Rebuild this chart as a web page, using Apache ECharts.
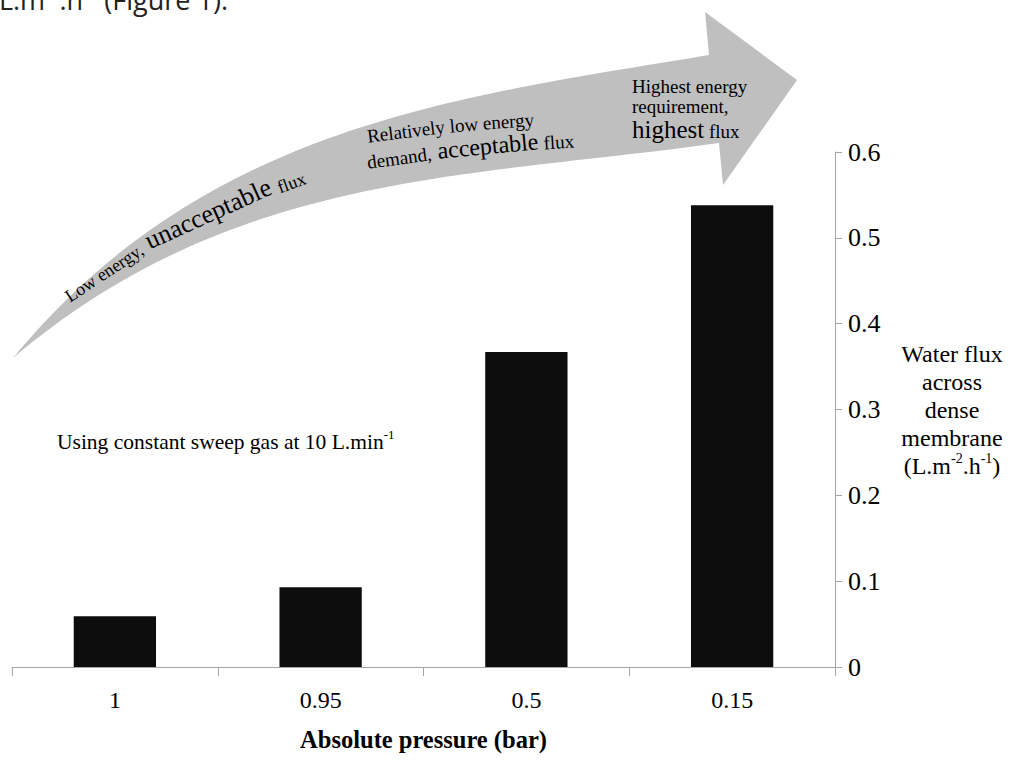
<!DOCTYPE html>
<html><head><meta charset="utf-8">
<script src="https://cdn.jsdelivr.net/npm/echarts@6/dist/echarts.min.js"></script>
<style>html,body{margin:0;padding:0;background:#fff}#c{width:1011px;height:764px}</style>
</head><body><div id="c"></div>
<script>
// ---- data ----
const categories = ['1', '0.95', '0.5', '0.15'];
const waterFlux = [0.059, 0.093, 0.367, 0.538];
const yTicks = [0, 0.1, 0.2, 0.3, 0.4, 0.5, 0.6];
const xAxisTitle = 'Absolute pressure (bar)';
const yAxisTitle = 'Water flux\nacross\ndense\nmembrane\n(L.m{sup|-2}.h{sup|-1})';
const noteText = '{n|Using constant sweep gas at 10 L.min}{s|-1}';
const arrowText1 = ['Low energy,', 'unacceptable', 'flux'];
const arrowText2a = ['Relatively', 'low', 'energy'];
const arrowText2b = ['demand,', 'acceptable', 'flux'];
const arrowText3 = ['Highest energy', 'requirement,', 'highest', 'flux'];
const topText = '{a|L.m}{s|-2}{a|.h}{s|-1}{a| (Figure 1).}';

// ---- helpers for decoration ----
const SERIF = '"Liberation Serif", "Times New Roman", serif';
const mctx = document.createElement('canvas').getContext('2d');
function tw(t, size) { mctx.font = size + 'px ' + SERIF; return mctx.measureText(t).width; }
function bez(pts, t) {
  let p = pts.map(q => q.slice());
  while (p.length > 1) {
    const n = [];
    for (let i = 0; i < p.length - 1; i++) n.push([p[i][0] + (p[i + 1][0] - p[i][0]) * t, p[i][1] + (p[i + 1][1] - p[i][1]) * t]);
    p = n;
  }
  return p[0];
}
function polyline(ctrl, n) { const a = []; for (let i = 0; i <= n; i++) a.push(bez(ctrl, i / n)); return a; }
function walker(ctrl) {
  const pts = polyline(ctrl, 300); const cum = [0];
  for (let i = 1; i < pts.length; i++) cum.push(cum[i - 1] + Math.hypot(pts[i][0] - pts[i - 1][0], pts[i][1] - pts[i - 1][1]));
  return function (s) {
    let i = 0;
    while (i < pts.length - 2 && cum[i + 1] < s) i++;
    const f = (s - cum[i]) / (cum[i + 1] - cum[i]);
    const dx = pts[i + 1][0] - pts[i][0], dy = pts[i + 1][1] - pts[i][1];
    return { x: pts[i][0] + dx * f, y: pts[i][1] + dy * f, ang: Math.atan2(dy, dx) };
  };
}
function runsOnPath(texts, sizes, gaps, ctrl, start) {
  const walk = walker(ctrl); let s = start; const els = [];
  texts.forEach((t, i) => {
    const size = sizes[i];
    if (i > 0) s += (gaps && gaps[i] != null) ? gaps[i] : tw(' ', Math.min(size, sizes[i - 1]));
    const w = tw(t, size);
    const m = walk(s + w / 2);
    const off = 0.34 * size;
    els.push({
      type: 'text', x: m.x + Math.sin(m.ang) * off, y: m.y - Math.cos(m.ang) * off,
      rotation: -m.ang, z: 10,
      style: { text: t, fontFamily: 'Liberation Serif', fontSize: size, fill: '#000', align: 'center', verticalAlign: 'middle' }
    });
    s += w;
  });
  return els;
}

// arrow outline
const upperEdge = polyline([[13, 358], [205, 125], [457, 97], [709, 55]], 80);
const lowerEdge = polyline([[719, 143], [470, 178], [233, 171], [13, 358]], 80);
const arrowPts = upperEdge.concat([[705, 12], [797, 80], [723, 185]], lowerEdge);

const graphics = [
  { type: 'polygon', z: 1, shape: { points: arrowPts }, style: { fill: '#bfbfbf' } },
  ...runsOnPath(arrowText1, [18, 26, 18], [null, 6, 6], [[62, 312], [150, 238], [318, 180]], 12),
  ...runsOnPath(arrowText2a, [19, 19, 19], null, [[368, 143], [450, 131], [537, 126]], 0),
  ...runsOnPath(arrowText2b, [19, 24, 19], [null, 6, 5], [[368, 169], [475, 153], [582, 147]], 0),
  ...runsOnPath([arrowText3[0]], [19], null, [[632, 93], [900, 93]], 0),
  ...runsOnPath([arrowText3[1]], [19], null, [[632, 113], [900, 113]], 0),
  ...runsOnPath([arrowText3[2], arrowText3[3]], [25, 19], null, [[632, 138], [900, 138]], 0),
  {
    type: 'text', x: 57, y: 428, z: 10,
    style: {
      text: noteText, align: 'left', verticalAlign: 'top',
      rich: {
        n: { fontFamily: 'Liberation Serif', fontSize: 21.5, lineHeight: 28, fill: '#000' },
        s: { fontFamily: 'Liberation Serif', fontSize: 13, lineHeight: 19, verticalAlign: 'top', fill: '#000' }
      }
    }
  },
  {
    type: 'text', x: 228, y: 16, z: 10,
    style: {
      text: topText, align: 'right', verticalAlign: 'bottom',
      rich: {
        a: { fontFamily: 'Open Sans', fontSize: 27, lineHeight: 34, fill: '#222' },
        s: { fontFamily: 'Open Sans', fontSize: 16, lineHeight: 22, verticalAlign: 'top', fill: '#222' }
      }
    }
  }
];

const chart = echarts.init(document.getElementById('c'), null, { renderer: 'svg' });
chart.setOption({
  animation: false,
  backgroundColor: '#fff',
  grid: { left: 12, right: 176, top: 152, bottom: 97, containLabel: false },
  xAxis: {
    type: 'category', data: categories, boundaryGap: true,
    axisLine: { lineStyle: { color: '#a6a6a6', width: 1 } },
    axisTick: { show: true, length: 9, alignWithLabel: false, lineStyle: { color: '#a6a6a6' } },
    axisLabel: { margin: 21, color: '#000', fontFamily: 'Liberation Serif', fontSize: 24 },
    splitLine: { show: false },
    name: xAxisTitle, nameLocation: 'middle', nameGap: 60,
    nameTextStyle: { color: '#000', fontFamily: 'Liberation Serif', fontSize: 24.5, fontWeight: 'bold' }
  },
  yAxis: {
    type: 'value', position: 'right',
    min: yTicks[0], max: yTicks[yTicks.length - 1], interval: yTicks[1] - yTicks[0],
    axisLine: { show: true, lineStyle: { color: '#a6a6a6', width: 1 } },
    axisTick: { show: true, length: 7, inside: false, lineStyle: { color: '#a6a6a6' } },
    axisLabel: { margin: 13, color: '#000', fontFamily: 'Liberation Serif', fontSize: 26,
      formatter: v => String(+(+v).toFixed(2)) },
    splitLine: { show: false },
    name: yAxisTitle, nameLocation: 'middle', nameRotate: 0, nameGap: 117,
    nameTextStyle: {
      color: '#000', fontFamily: 'Liberation Serif', fontSize: 24, lineHeight: 28,
      align: 'center', verticalAlign: 'middle',
      rich: { sup: { fontFamily: 'Liberation Serif', fontSize: 14, lineHeight: 19, verticalAlign: 'top', color: '#000' } }
    }
  },
  series: [{
    type: 'bar', data: waterFlux, barWidth: '40%',
    itemStyle: { color: '#0d0d0d' }
  }],
  graphic: graphics
});
</script>
</body></html>
